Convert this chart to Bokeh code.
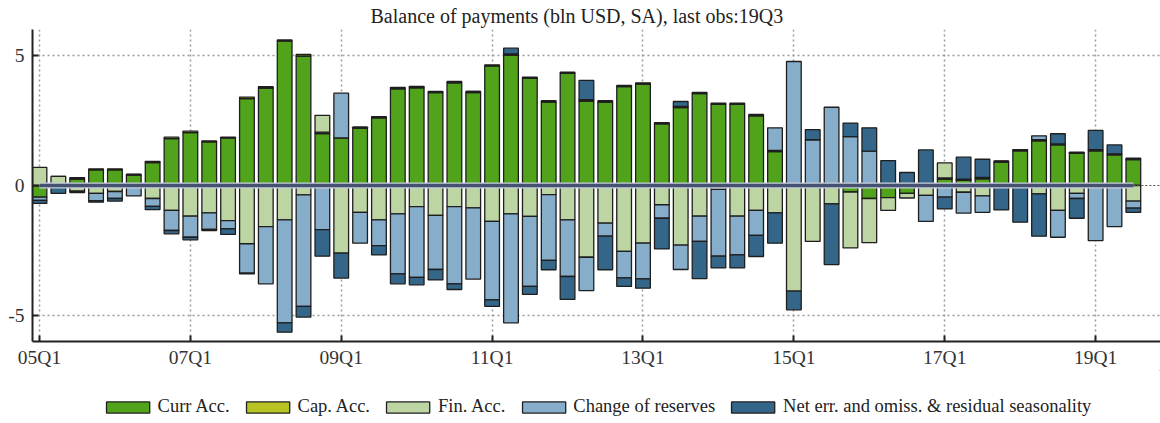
from bokeh.plotting import figure
from bokeh.models import ColumnDataSource, Legend, LegendItem, FixedTicker, Range1d
from bokeh.layouts import column
from bokeh.embed import file_html
from bokeh.resources import INLINE

# quarters 05Q1 .. 19Q3 (index 0..58)
quarter_labels = [f"{y:02d}Q{q}" for y in range(5, 20) for q in range(1, 5)][:59]
tick_labels = ["05Q1", "07Q1", "09Q1", "11Q1", "13Q1", "15Q1", "17Q1", "19Q1"]

curr_acc = [-0.45, 0, 0.25, 0.6, 0.6, 0.4, 0.88, 1.8, 2.03, 1.68,
            1.82, 3.34, 3.75, 5.55, 4.98, 2.0, 1.83, 2.2, 2.6, 3.72,
            3.76, 3.57, 3.95, 3.57, 4.59, 5.02, 4.12, 3.21, 4.31, 3.25,
            3.21, 3.8, 3.9, 2.37, 3.0, 3.53, 3.12, 3.12, 2.68, 1.3,
            0, 0, 0, -0.25, -0.5, -0.47, -0.3, 0, 0.25, 0.2,
            0.26, 0.9, 1.33, 1.72, 1.56, 1.24, 1.33, 1.18, 1.0]
cap_acc = [0, 0, 0.05, 0.04, 0.04, 0.03, 0.05, 0.06, 0.06, 0.04,
           0.04, 0.06, 0.05, 0.05, 0.06, 0.05, 0, 0.04, 0.05, 0.05,
           0.05, 0.05, 0.05, 0.05, 0.05, 0.04, 0.05, 0.05, 0.05, 0.05,
           0.05, 0.05, 0.05, 0.05, 0.04, 0.05, 0.05, 0.05, 0.05, 0.05,
           0, 0, 0, 0, 0, 0, 0, 0, 0.04, 0.04,
           0.05, 0.04, 0.05, 0.04, 0.04, 0.04, 0.05, 0.04, 0.05]
fin_acc = [0.7, 0.35, -0.22, -0.3, -0.23, 0, -0.5, -0.96, -1.18, -1.05,
           -1.35, -2.24, -1.58, -1.32, -0.36, 0.65, -2.6, -1.03, -1.32, -1.09,
           -0.81, -1.15, -0.81, -0.86, -1.38, -1.09, -1.19, -0.35, -1.32, -2.76,
           -1.45, -2.53, -2.22, -0.74, -2.29, -1.18, -0.15, -1.18, -0.96, -1.05,
           -4.06, -2.15, -0.71, -2.15, -1.7, -0.49, -0.18, -0.38, 0.58, -0.26,
           -0.4, 0, 0, -0.32, -0.96, -0.3, 0, 0, -0.6]
reserves = [-0.12, 0, 0, -0.28, -0.27, -0.4, -0.3, -0.77, -0.81, -0.64,
            -0.32, -1.13, -2.2, -3.96, -4.29, -1.7, 1.72, -1.19, -0.99, -2.31,
            -2.72, -2.08, -2.97, -2.74, -3.02, -4.19, -2.69, -2.53, -2.18, -1.28,
            -0.5, -1.02, -1.37, -0.52, -0.94, -0.97, -2.57, -1.49, -0.96, 0.87,
            4.77, 1.76, 3.01, 1.88, 1.32, 0, 0, -1.0, -0.45, -0.8,
            -0.63, 0, 0, 0.15, -1.03, -0.2, -2.12, -1.58, -0.27]
net_err = [-0.12, -0.3, -0.05, -0.06, -0.1, 0, -0.13, -0.13, -0.1, -0.04,
           -0.21, -0.03, 0, -0.36, -0.41, -1.02, -0.96, 0, -0.36, -0.38,
           -0.29, -0.4, -0.22, 0, -0.25, 0.22, -0.31, -0.36, -0.88, 0.74,
           -1.29, -0.33, -0.36, -1.18, 0.19, -1.43, -0.45, -0.5, -0.81, -1.17,
           -0.72, 0.39, -2.33, 0.52, 0.9, 0.96, 0.5, 1.37, -0.45, 0.85,
           0.7, -0.94, -1.41, -1.63, 0.39, -0.76, 0.74, 0.34, -0.16]

series = [
    ("Curr Acc.", curr_acc, "#52a31c"),
    ("Cap. Acc.", cap_acc, "#b8c424"),
    ("Fin. Acc.", fin_acc, "#bcd5a2"),
    ("Change of reserves", reserves, "#86adca"),
    ("Net err. and omiss. & residual seasonality", net_err, "#336688"),
]

n = len(quarter_labels)
xs = list(range(n))

FONT = "Liberation Serif"
X_END = 59.44

p = figure(width=1160, height=370, output_backend="svg", toolbar_location=None,
           x_range=Range1d(-0.37, X_END), y_range=Range1d(-6, 6),
           min_border_left=32, min_border_right=0, min_border_top=0, min_border_bottom=0,
           outline_line_color=None,
           title="Balance of payments (bln USD, SA), last obs:19Q3")
p.title.align = "left"
p.title.text_font = FONT
p.title.text_font_size = "20px"
p.title.text_font_style = "normal"
p.title.text_color = "#222222"
p.title.standoff = 5
p.title.offset = 338

# legend-only figure
lg = figure(width=1160, height=47, output_backend="svg", toolbar_location=None,
            x_range=Range1d(0, 1), y_range=Range1d(0, 1),
            min_border_left=0, min_border_right=0, min_border_top=0, min_border_bottom=0,
            outline_line_color=None)
lg.axis.visible = False
lg.grid.visible = False

pos_base = [0.0] * n
neg_base = [0.0] * n
items = []
for name, vals, color in series:
    bottoms, tops = [], []
    for i, v in enumerate(vals):
        if v >= 0:
            bottoms.append(pos_base[i]); tops.append(pos_base[i] + v); pos_base[i] += v
        else:
            bottoms.append(neg_base[i] + v); tops.append(neg_base[i]); neg_base[i] += v
    src = ColumnDataSource(dict(x=xs, bottom=bottoms, top=tops))
    p.vbar(x="x", bottom="bottom", top="top", width=0.78, source=src,
           fill_color=color, line_color="#1e1e1e", line_width=1.3)
    # off-screen proxy so the legend swatch is drawn
    r = lg.vbar(x=[5], bottom=[5], top=[6], width=0.5,
                fill_color=color, line_color="#1e1e1e", line_width=1.3)
    items.append(LegendItem(label=name, renderers=[r]))

# zero line
zero_x = [0, n - 1]
p.line(zero_x, [0, 0], line_color="#c9d0dc", line_width=6)
p.line(zero_x, [0, 0], line_color="#465070", line_width=3.5)
p.line([n - 1, X_END], [0, 0], line_color="#555555", line_width=1, line_dash="2 2")

tick_pos = [quarter_labels.index(t) for t in tick_labels]
p.xaxis.ticker = FixedTicker(ticks=tick_pos)
p.xaxis.major_label_overrides = {tp: t for tp, t in zip(tick_pos, tick_labels)}
p.yaxis.ticker = FixedTicker(ticks=[-5, 0, 5])
p.yaxis.major_label_overrides = {-5: "-5", 0: "0", 5: "5"}

for ax in (p.xaxis[0], p.yaxis[0]):
    ax.axis_line_color = "#222222"
    ax.axis_line_width = 2
    ax.major_tick_in = 6
    ax.major_tick_out = 0
    ax.major_tick_line_color = "#222222"
    ax.major_tick_line_width = 2
    ax.minor_tick_line_color = None
    ax.major_label_text_font = FONT
    ax.major_label_text_font_size = "19.5px"
    ax.major_label_text_color = "#333333"
p.yaxis.major_label_standoff = 8
p.xaxis.major_label_standoff = 5

p.xgrid.ticker = FixedTicker(ticks=tick_pos)
p.ygrid.ticker = FixedTicker(ticks=[-5, 5])
for g in (p.xgrid[0], p.ygrid[0]):
    g.grid_line_color = "#9a9a9a"
    g.grid_line_width = 1.5
    g.grid_line_dash = "2 3"

legend = Legend(items=items, orientation="horizontal", location="bottom_center",
                glyph_width=54, glyph_height=14, label_text_font=FONT,
                label_text_font_size="18.5px", label_text_color="#222222",
                label_standoff=3, spacing=11, padding=4, margin=0,
                border_line_color=None, background_fill_alpha=0)
lg.add_layout(legend, "center")

layout = column(p, lg, spacing=0)
open("out.html", "w").write(file_html(layout, INLINE))
